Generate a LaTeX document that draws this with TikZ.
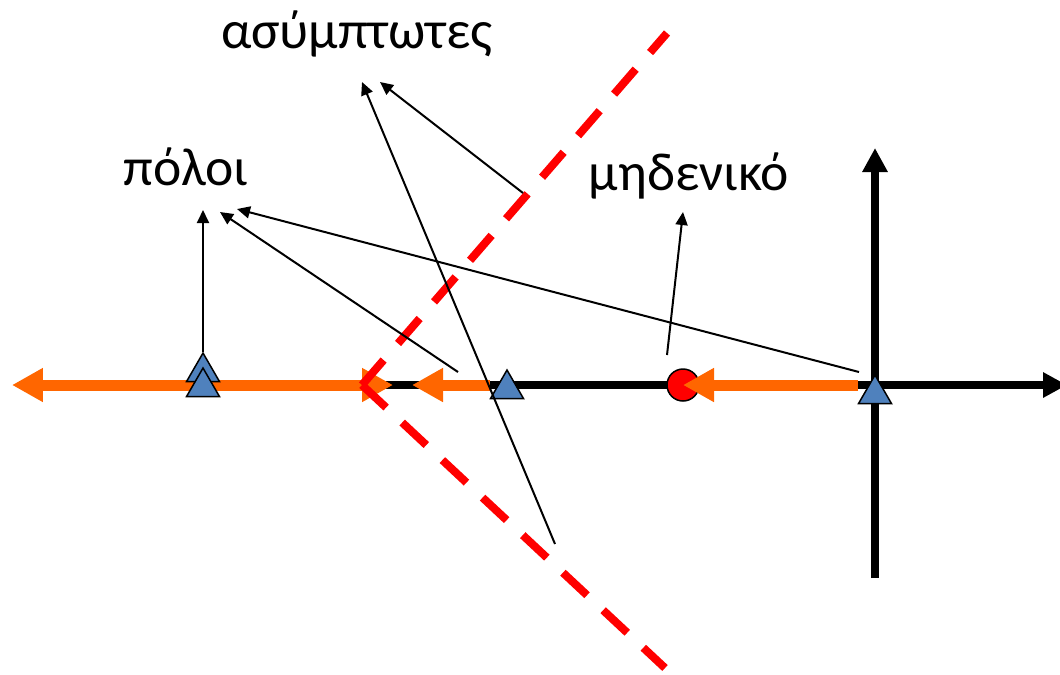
\documentclass[tikz,border=0pt]{standalone}
\usepackage{fontspec}
\setmainfont{Carlito}
\usepackage{tikz}
\usetikzlibrary{arrows.meta,shapes.geometric}
\definecolor{bleupole}{RGB}{79,129,189}
\definecolor{orangelieu}{RGB}{255,102,0}
\definecolor{rougeasym}{RGB}{255,0,0}

\begin{document}
\begin{tikzpicture}[x=0.02cm, y=-0.02cm,
  axe/.style={line width=0.16cm, -{Triangle[length=0.48cm,width=0.48cm]}},
  lieu/.style={orangelieu, line width=0.22cm, -{Triangle[length=0.62cm,width=0.64cm]}},
  asym/.style={rougeasym, line width=0.16cm, dash pattern=on 0.66cm off 0.44cm},
  note/.style={line width=0.04cm, -{Triangle[length=0.26cm,width=0.24cm]}},
  pole/.style={draw, line width=0.03cm, fill=bleupole, regular polygon, regular polygon sides=3, minimum size=0.76cm, inner sep=0pt},
  zero/.style={draw, line width=0.03cm, fill=rougeasym, circle, minimum size=0.64cm, inner sep=0pt},
  etiq/.style={anchor=base, font=\fontsize{30.5}{36}\selectfont}]
\useasboundingbox (0,0) rectangle (1060,674);
\clip (0,0) rectangle (1060,674);
\coordinate (xg) at (20,385);
\coordinate (xd) at (1067,385);
\coordinate (yb) at (875,578);
\coordinate (yh) at (875,148);
\draw[axe] (xg) -- (xd);
\draw[axe] (yb) -- (yh);
\node[zero] (Z) at (683,385) {};
\coordinate (A0) at (858,385);
\coordinate (B0) at (490,385);
\coordinate (B1) at (412,385);
\coordinate (P3) at (203,385);
\coordinate (C1) at (393,385);
\coordinate (D1) at (12,385);
\draw[lieu] (A0) -- (Z.center);
\draw[lieu] (B0) -- (B1);
\draw[lieu] (P3) -- (C1);
\draw[lieu] (P3) -- (D1);
\node[pole] (P1) at (875,394) {};
\node[pole] (P2) at (507,389) {};
\node[pole] (P3a) at (203,372) {};
\node[pole] (P3b) at (203,387) {};
\coordinate (cen) at (362,385);
\coordinate (ah) at (667,33);
\coordinate (ab) at (665,668);
\draw[asym] (cen) -- (ah);
\draw[asym] (cen) -- (ab);
\node[etiq] (poles) at (186,185) {πόλοι};
\node[etiq] (asymp) at (357,48) {ασύμπτωτες};
\node[etiq] (zeros) at (689,190) {μηδενικό};
\coordinate (t1) at (203,210);
\coordinate (s2) at (458,372);
\coordinate (t2) at (220,212);
\coordinate (s3) at (859,372);
\coordinate (t3) at (237,209);
\coordinate (s4) at (555,544);
\coordinate (t4) at (362,82);
\coordinate (s5) at (523,193);
\coordinate (t5) at (380,82);
\coordinate (s6) at (667,355);
\coordinate (t6) at (683,212);
\draw[note] (P3a.north) -- (t1);
\draw[note] (s2) -- (t2);
\draw[note] (s3) -- (t3);
\draw[note] (s4) -- (t4);
\draw[note] (s5) -- (t5);
\draw[note] (s6) -- (t6);
\end{tikzpicture}
\end{document}
